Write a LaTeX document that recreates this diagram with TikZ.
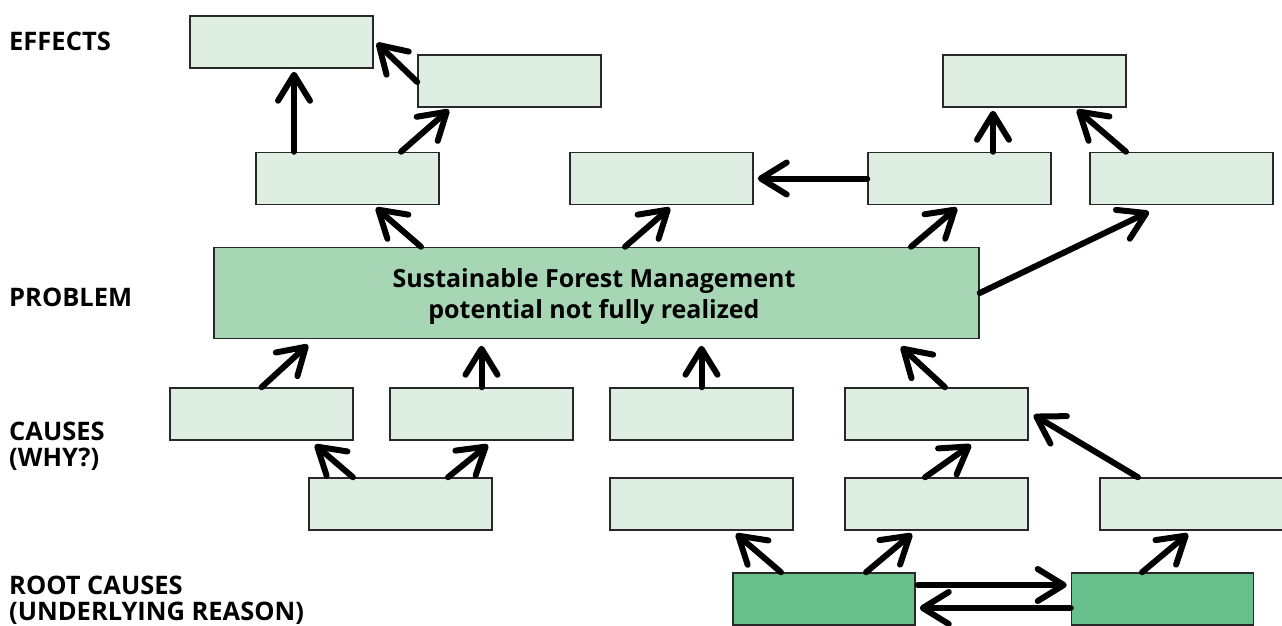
\documentclass[tikz,border=0pt]{standalone}
\usepackage{fontspec}
\setmainfont{Open Sans}
\usetikzlibrary{arrows.meta,calc}
\definecolor{lightfill}{RGB}{222,238,226}
\definecolor{probfill}{RGB}{166,214,180}
\definecolor{rootfill}{RGB}{103,192,140}
\definecolor{boxline}{RGB}{40,40,40}
\tikzset{
  lbox/.style={draw=boxline, line width=1.5pt, fill=lightfill, minimum width=183pt, minimum height=52pt, inner sep=0pt},
  rbox/.style={lbox, fill=rootfill, minimum width=182pt},
  pbox/.style={draw=boxline, line width=1.5pt, fill=probfill, minimum width=765pt, minimum height=91pt, inner sep=0pt, align=center, font=\bfseries\fontsize{25}{31}\selectfont},
  lvl/.style={anchor=base west, inner sep=0pt, align=left, font=\bfseries\fontsize{25.5}{26}\selectfont},
  arr/.style={line width=6pt, line cap=round, -{Straight Barb[length=26pt,width=32pt,line cap=round,line join=round]}}
}
\begin{document}
\begin{tikzpicture}[x=1pt,y=-1pt]
\useasboundingbox (0,0) rectangle (1282,625);
% level labels
\node[lvl] (lE) at (9,50) {EFFECTS};
\node[lvl] (lP) at (9,306) {PROBLEM};
\node[lvl] (lC) at (9,466) {CAUSES\\(WHY?)};
\node[lvl] (lR) at (9,620) {ROOT CAUSES\\(UNDERLYING REASON)};
% effects
\node[lbox] (E1) at (281.5,42) {};
\node[lbox] (E2) at (509.5,81) {};
\node[lbox] (E3) at (1034.5,81) {};
\node[lbox] (A1) at (347.5,178.5) {};
\node[lbox] (A2) at (661.5,178.5) {};
\node[lbox] (A3) at (959.5,178.5) {};
\node[lbox] (A4) at (1181.5,178.5) {};
% problem
\node[pbox] (P) at (596.5,293) {};
\node[anchor=base, inner sep=0pt, align=center, font=\bfseries\fontsize{25}{31}\selectfont] (Pt) at (594,318) {Sustainable Forest Management\\potential not fully realized};
% causes
\node[lbox] (C1) at (261.5,414) {};
\node[lbox] (C2) at (481.5,414) {};
\node[lbox] (C3) at (701.5,414) {};
\node[lbox] (C4) at (936.5,414) {};
\node[lbox] (D1) at (400.5,504) {};
\node[lbox] (D2) at (701.5,504) {};
\node[lbox] (D3) at (936.5,504) {};
\node[lbox] (D4) at (1191.5,504) {};
% root causes
\node[rbox] (R1) at (824,599) {};
\node[rbox] (R2) at (1162.5,599) {};
% connectors
\draw[arr] ($(A1.north)+(-53.5,0)$) -- ($(E1.south)+(12.5,3)$);
\draw[arr] ($(E2.west)+(0,1)$) -- ($(E1.east)+(3,1)$);
\draw[arr] ($(A1.north)+(53.5,0)$) -- ($(E2.south)+(-60.5,2)$);
\draw[arr] ($(P.north)+(-175.5,0)$) -- ($(A1.south)+(28.5,2.5)$);
\draw[arr] ($(P.north)+(28.5,0)$) -- ($(A2.south)+(8.5,2.5)$);
\draw[arr] (A3.west) -- ($(A2.east)+(4,0)$);
\draw[arr] ($(A3.north)+(33.5,0)$) -- ($(E3.south)+(-41.5,3)$);
\draw[arr] ($(A4.north)+(-55.5,0)$) -- ($(E3.south)+(42.5,2)$);
\draw[arr] ($(P.north)+(314.5,0)$) -- ($(A3.south)+(-2.5,2.5)$);
\draw[arr] (P.east) -- ($(A4.south)+(-32.5,6.5)$);
\draw[arr] (C1.north) -- ($(P.south)+(-288.5,5.5)$);
\draw[arr] (C2.north) -- ($(P.south)+(-115,6.5)$);
\draw[arr] (C3.north) -- ($(P.south)+(105,6.5)$);
\draw[arr] ($(C4.north)+(8.5,0)$) -- ($(P.south)+(304.5,7.5)$);
\draw[arr] ($(D1.north)+(-47.5,0)$) -- ($(C1.south)+(53.5,4)$);
\draw[arr] ($(D1.north)+(47.5,0)$) -- ($(C2.south)+(6.5,4)$);
\draw[arr] ($(D3.north)+(-11.5,0)$) -- ($(C4.south)+(34.5,4)$);
\draw[arr] ($(D4.north)+(-53.5,0)$) -- ($(C4.east)+(5,1)$);
\draw[arr] ($(R1.north)+(-43,0)$) -- ($(D2.south)+(34.5,3)$);
\draw[arr] ($(R1.north)+(42,0)$) -- ($(D3.south)+(-24.5,3)$);
\draw[arr] ($(R2.north)+(-20.5,0)$) -- ($(D4.south)+(-3.5,3)$);
\draw[arr] ($(R1.east)+(2,-14)$) -- ($(R2.west)+(-4,-14)$);
\draw[arr] ($(R2.west)+(0,9)$) -- ($(R1.east)+(4,9)$);
\end{tikzpicture}
\end{document}
